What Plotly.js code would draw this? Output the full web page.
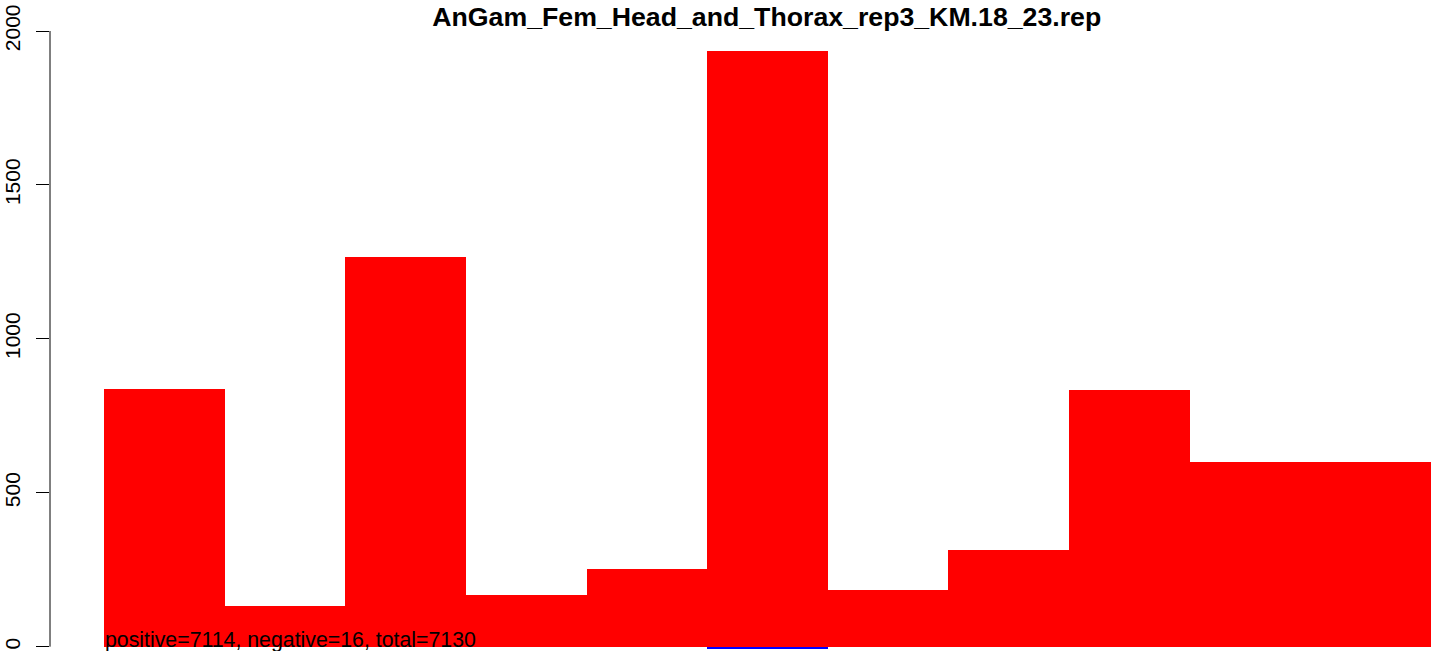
<!DOCTYPE html>
<html>
<head>
<meta charset="utf-8">
<script src="https://cdn.plot.ly/plotly-3.0.1.min.js"></script>
<style>html,body{margin:0;padding:0;background:#fff;}#chart{width:1439px;height:651px;}</style>
</head>
<body>
<div id="chart"></div>
<script>
// Data
const categories = ["1","2","3","4","5","6","7","8","9","10","11"];
const positiveCounts = [836, 131, 1265, 167, 251, 1934, 183, 313, 833, 601, 600];
const negativeCounts = [-2, 0, 0, 0, 0, -6, -2, 0, -2, -2, -2];
const yTickValues = [0, 500, 1000, 1500, 2000];
const yTickLabels = ["0", "500", "1000", "1500", "2000"];
const chartTitle = "AnGam_Fem_Head_and_Thorax_rep3_KM.18_23.rep";
const summaryText = "positive=7114, negative=16, total=7130";

const xIndex = categories.map((c, i) => i);

const traces = [
  {
    type: "bar",
    x: xIndex,
    y: positiveCounts,
    marker: {color: "#FF0000", line: {width: 0}},
    hoverinfo: "skip",
    showlegend: false
  },
  {
    type: "bar",
    x: xIndex,
    y: negativeCounts,
    marker: {color: "#0000FF", line: {width: 0}},
    hoverinfo: "skip",
    showlegend: false
  }
];

const layout = {
  width: 1439,
  height: 651,
  margin: {l: 50, r: 0, t: 31, b: 0, pad: 0},
  paper_bgcolor: "#ffffff",
  plot_bgcolor: "#ffffff",
  barmode: "relative",
  bargap: 0,
  showlegend: false,
  font: {family: "Liberation Sans, Arial, sans-serif", color: "#000000"},
  title: {
    text: "<b>" + chartTitle + "</b>",
    font: {family: "Liberation Sans, Arial, sans-serif", size: 26.7, color: "#000000"},
    xref: "paper",
    x: 0.516,
    xanchor: "center",
    yref: "container",
    y: 0.974,
    yanchor: "middle"
  },
  xaxis: {
    visible: false,
    range: [-0.9476, 10.5663],
    fixedrange: true
  },
  yaxis: {
    range: [-14, 2000],
    tickvals: yTickValues,
    ticktext: yTickLabels,
    ticks: "outside",
    ticklen: 13,
    tickwidth: 1,
    tickcolor: "#000000",
    tickangle: -90,
    ticklabelstandoff: 8,
    tickfont: {family: "Liberation Sans, Arial, sans-serif", size: 21, color: "#000000"},
    showgrid: false,
    zeroline: false,
    showline: false,
    fixedrange: true
  },
  shapes: [
    {
      type: "line",
      xref: "paper", yref: "y",
      x0: 0, x1: 0, y0: 0, y1: 2000,
      line: {color: "#000000", width: 1}
    }
  ],
  annotations: [
    {
      text: summaryText,
      xref: "x", yref: "y",
      x: -0.5, y: 0,
      xanchor: "left", yanchor: "bottom",
      yshift: -6,
      showarrow: false,
      borderpad: 0,
      font: {family: "Liberation Sans, Arial, sans-serif", size: 21.3, color: "#000000"}
    }
  ]
};

Plotly.newPlot("chart", traces, layout, {staticPlot: true, displayModeBar: false});
</script>
</body>
</html>
